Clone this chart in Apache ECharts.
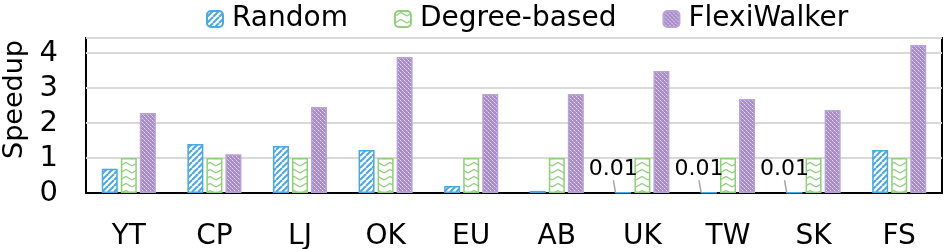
<!DOCTYPE html>
<html><head><meta charset="utf-8">
<script src="https://cdn.jsdelivr.net/npm/echarts@6/dist/echarts.min.js"></script>
<style>html,body{margin:0;padding:0;background:#fff}#c{width:946px;height:249px}</style>
</head><body><div id="c"></div>
<script>
const categories = ['YT','CP','LJ','OK','EU','AB','UK','TW','SK','FS'];
const randomVals = [0.69,1.40,1.34,1.23,0.20,0.06,0.01,0.01,0.01,1.23];
const degreeVals = [1,1,1,1,1,1,1,1,1,1];
const flexiVals = [2.29,1.11,2.46,3.89,2.83,2.83,3.49,2.69,2.37,4.23];
const seriesNames = ['Random','Degree-based','FlexiWalker'];
const yTicks = [0,1,2,3,4];

const FONT = 'DejaVu Sans';

function stripePattern(){
  const c=document.createElement('canvas');c.width=6;c.height=6;
  const g=c.getContext('2d');g.fillStyle='#fff';g.fillRect(0,0,6,6);
  g.strokeStyle='#4aa8e0';g.lineWidth=2;
  for(let k=-6;k<=12;k+=6){g.beginPath();g.moveTo(k,6);g.lineTo(k+6,0);g.stroke();}
  return c;
}
function chevronPattern(){
  const c=document.createElement('canvas');c.width=12;c.height=7;
  const g=c.getContext('2d');g.fillStyle='#fff';g.fillRect(0,0,12,7);
  g.strokeStyle='#8fcf7c';g.lineWidth=1.3;
  g.beginPath();g.moveTo(0,5);g.lineTo(6,1.5);g.lineTo(12,5);g.stroke();
  return c;
}
function dotPattern(){
  const c=document.createElement('canvas');c.width=4;c.height=4;
  const g=c.getContext('2d');g.fillStyle='#a78cc8';g.fillRect(0,0,4,4);
  g.fillStyle='#e6dcf1';g.fillRect(0,0,1,1);g.fillRect(2,2,1,1);
  g.fillStyle='#c9b8df';g.fillRect(1,1,1,1);g.fillRect(3,3,1,1);
  return c;
}

const randomData = randomVals.map(v => v <= 0.01 ? {value:v, label:{show:true, formatter:'0.01'}} : v);

const chart = echarts.init(document.getElementById('c'), null, {renderer:'canvas'});
chart.setOption({
  animation:false,
  textStyle:{fontFamily:FONT},
  legend:{
    top:0, left:201, itemWidth:16, itemHeight:16, itemGap:46,
    textStyle:{fontFamily:FONT, fontSize:28, color:'#000', padding:[0,0,0,4]},
    data:seriesNames
  },
  grid:{left:86, right:4, top:38, bottom:56, show:true, borderColor:'#000', borderWidth:2,
        containLabel:false, outerBoundsMode:'none'},
  xAxis:{
    type:'category', data:categories,
    axisLine:{lineStyle:{color:'#000', width:2}},
    axisTick:{show:false},
    axisLabel:{fontFamily:FONT, fontSize:28, color:'#000', margin:30}
  },
  yAxis:{
    type:'value', min:0, max:4.43, interval:1,
    name:'Speedup', nameLocation:'middle', nameGap:55, nameRotate:90,
    nameTextStyle:{fontFamily:FONT, fontSize:27, color:'#000', padding:[0,0,0,32]},
    axisLine:{show:false}, axisTick:{show:false},
    axisLabel:{fontFamily:FONT, fontSize:29, color:'#000', margin:28, showMaxLabel:false,
      formatter:v => yTicks.includes(v) ? String(v) : ''},
    splitLine:{lineStyle:{color:'#d9d9d9', width:2}}
  },
  series:[
    {name:seriesNames[0], type:'bar', data:randomData, barWidth:16, barGap:'19%',
     itemStyle:{color:{image:stripePattern(), repeat:'repeat'}, borderColor:'#4aa8e0', borderWidth:1.5},
     label:{show:false, position:'top', fontFamily:FONT, fontSize:22, color:'#000',
            width:1, overflow:'none', padding:[0,0,6,0]},
     labelLayout:{dx:-10, dy:-1},
     labelLine:{show:true, lineStyle:{color:'#a6a6a6', width:1.5}}
    },
    {name:seriesNames[1], type:'bar', data:degreeVals, barWidth:16, barGap:'19%',
     itemStyle:{color:{image:chevronPattern(), repeat:'repeat'}, borderColor:'#8fcf7c', borderWidth:1.5}},
    {name:seriesNames[2], type:'bar', data:flexiVals, barWidth:16, barGap:'19%',
     itemStyle:{color:{image:dotPattern(), repeat:'repeat'}, borderColor:'#b9a3d6', borderWidth:1.5}}
  ]
});
</script></body></html>
